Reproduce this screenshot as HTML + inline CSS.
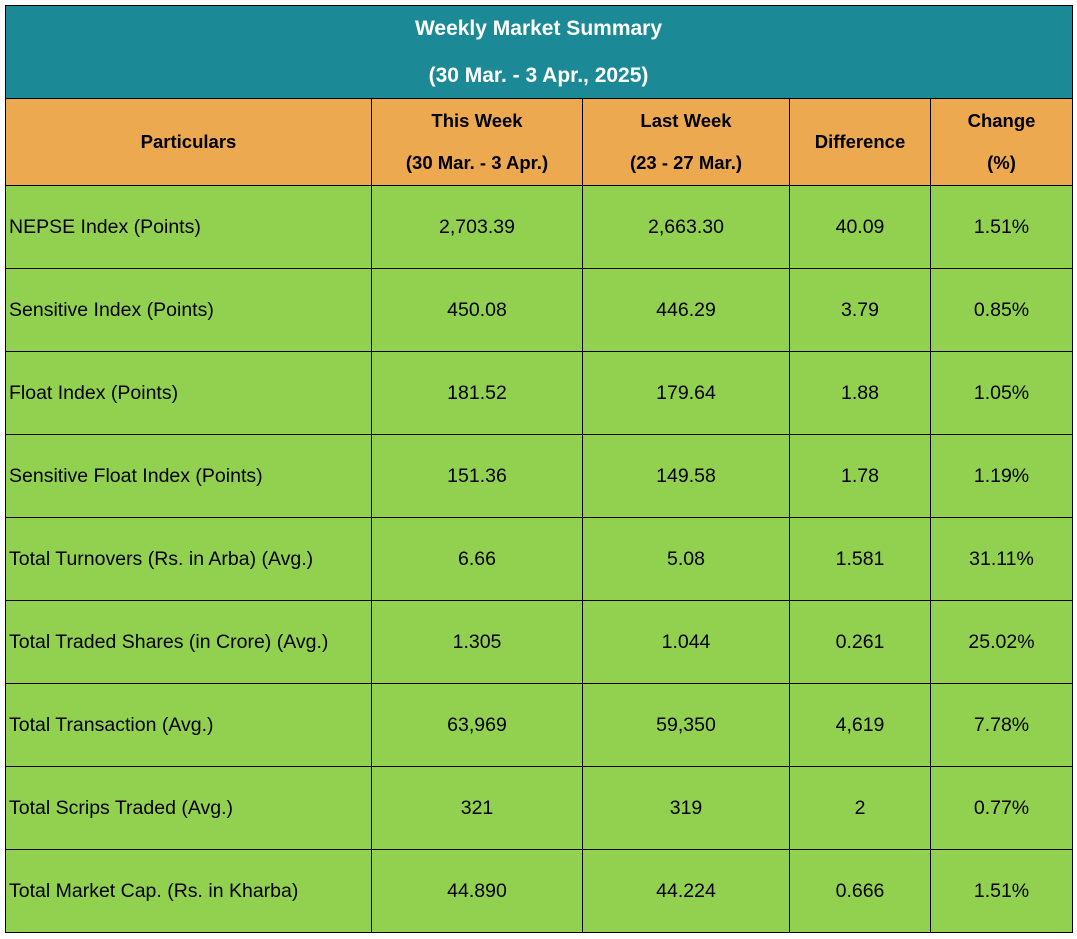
<!DOCTYPE html>
<html><head><meta charset="utf-8"><style>
body{margin:0;width:1077px;height:939px;background:#fff;font-family:"Liberation Sans",sans-serif;position:relative;overflow:hidden}
.c{position:absolute;box-sizing:border-box;display:flex;align-items:center;justify-content:center;text-align:center;font-size:19.5px;color:#000}
.l{justify-content:flex-start;padding-left:4px}
.h{background:#eda94f;font-weight:bold;line-height:42px;font-size:18.5px}
.g{background:#92d050}
#t{position:absolute;left:5px;top:5px;width:1067px;height:94px;background:#1b8a96;color:#fff;font-weight:bold;font-size:21px;text-align:center;line-height:47px}
.ln{position:absolute;background:#000}
</style></head><body>
<div id="t">Weekly Market Summary<br>(30 Mar. - 3 Apr., 2025)</div>
<div id="rows"></div>
<script>
const xs=[5,371,582,789,930,1072];
const ys=[98,185,268,351,434,517,600,683,766,849,932];
const hdr=["Particulars","This Week<br>(30 Mar. - 3 Apr.)","Last Week<br>(23 - 27 Mar.)","Difference","Change<br>(%)"];
const data=[
["NEPSE Index (Points)","2,703.39","2,663.30","40.09","1.51%"],
["Sensitive Index (Points)","450.08","446.29","3.79","0.85%"],
["Float Index (Points)","181.52","179.64","1.88","1.05%"],
["Sensitive Float Index (Points)","151.36","149.58","1.78","1.19%"],
["Total Turnovers (Rs. in Arba) (Avg.)","6.66","5.08","1.581","31.11%"],
["Total Traded Shares (in Crore) (Avg.)","1.305","1.044","0.261","25.02%"],
["Total Transaction (Avg.)","63,969","59,350","4,619","7.78%"],
["Total Scrips Traded (Avg.)","321","319","2","0.77%"],
["Total Market Cap. (Rs. in Kharba)","44.890","44.224","0.666","1.51%"]];
let h="";
const rows=[hdr,...data];
rows.forEach((r,i)=>{r.forEach((t,j)=>{
let cls="c "+(i==0?"h":"g")+(i>0&&j==0?" l":"");
h+=`<div class="${cls}" style="left:${xs[j]}px;top:${ys[i]}px;width:${xs[j+1]-xs[j]+1}px;height:${ys[i+1]-ys[i]+1}px">${i==0?'<span>'+t+'</span>':t}</div>`;
});});
// horizontal lines
h+=`<div class="ln" style="left:5px;top:5px;width:1068px;height:1px"></div>`;
ys.forEach(y=>{h+=`<div class="ln" style="left:5px;top:${y}px;width:1068px;height:1px"></div>`;});
// vertical lines
xs.forEach((x,k)=>{let top=(k==0||k==5)?5:98;h+=`<div class="ln" style="left:${x}px;top:${top}px;width:1px;height:${932-top+1}px"></div>`;});
document.getElementById("rows").innerHTML=h;
</script>
</body></html>
